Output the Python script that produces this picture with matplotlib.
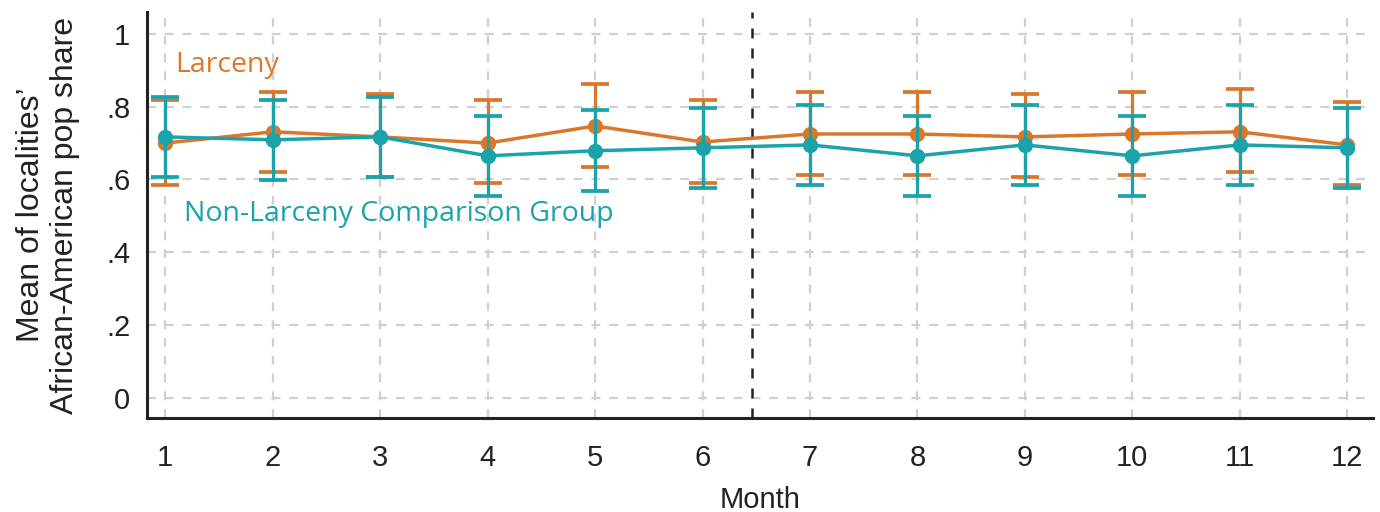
import numpy as np
import matplotlib.pyplot as plt

months = np.arange(1, 13)

# Larceny group
larceny_mean = [0.700, 0.731, 0.717, 0.700, 0.747, 0.703, 0.725, 0.725, 0.717, 0.725, 0.731, 0.695]
larceny_hi = [0.819, 0.841, 0.835, 0.819, 0.863, 0.819, 0.841, 0.841, 0.835, 0.841, 0.849, 0.813]
larceny_lo = [0.585, 0.621, 0.607, 0.591, 0.635, 0.591, 0.613, 0.613, 0.607, 0.613, 0.621, 0.585]

# Non-larceny comparison group
comp_mean = [0.717, 0.709, 0.717, 0.665, 0.679, 0.687, 0.695, 0.665, 0.695, 0.665, 0.695, 0.687]
comp_hi = [0.827, 0.819, 0.827, 0.775, 0.791, 0.797, 0.805, 0.775, 0.805, 0.775, 0.805, 0.797]
comp_lo = [0.607, 0.599, 0.607, 0.555, 0.569, 0.577, 0.585, 0.555, 0.585, 0.555, 0.585, 0.577]

cutoff = 6.46  # policy change between months 6 and 7

yticks = [0, 0.2, 0.4, 0.6, 0.8, 1.0]
ytick_labels = ['0', '.2', '.4', '.6', '.8', '1']

orange = '#D9782D'
teal = '#1AA3AA'

fig = plt.figure(figsize=(13.8, 5.12), dpi=100)
ax = fig.add_axes([147 / 1380, 1 - 418 / 512, (1373 - 147) / 1380, (418 - 12) / 512])

for mean, lo, hi, col, z in [(larceny_mean, larceny_lo, larceny_hi, orange, 3),
                             (comp_mean, comp_lo, comp_hi, teal, 4)]:
    mean = np.array(mean)
    err = [mean - np.array(lo), np.array(hi) - mean]
    ax.errorbar(months, mean, yerr=err, color=col, lw=2.5, marker='o', ms=10,
                capsize=10, capthick=2.7, elinewidth=2.3, zorder=z)

ax.axvline(cutoff, color='#222222', ls=(0, (4, 4)), lw=1.8, zorder=2)

ax.set_xlim(0.83, 12.24)
ax.set_ylim(-0.055, 1.06)
ax.set_xticks(months)
ax.set_yticks(yticks)
ax.set_yticklabels(ytick_labels)

ax.grid(True, color='#d0d0d0', ls=(0, (4, 4)), lw=1.6, zorder=0)
ax.set_axisbelow(True)

for s in ['top', 'right']:
    ax.spines[s].set_visible(False)
for s in ['left', 'bottom']:
    ax.spines[s].set_color('#222222')
    ax.spines[s].set_linewidth(2.2)

tick_font = ['Liberation Sans', 'DejaVu Sans']
ax.tick_params(axis='both', length=0, labelsize=21, labelcolor='#222222')
ax.tick_params(axis='x', pad=19)
ax.tick_params(axis='y', pad=12)
for lab in ax.get_xticklabels() + ax.get_yticklabels():
    lab.set_family(tick_font)

ax.set_xlabel('Month', fontsize=21, family=tick_font, color='#222222', labelpad=10)
ax.set_ylabel('Mean of localities\u2019\nAfrican-American pop share', fontsize=23,
              family=tick_font, color='#222222', labelpad=19, linespacing=1.15)

ax.text(1.09, 0.915, 'Larceny', color=orange, fontsize=20.5, family=['Open Sans', 'DejaVu Sans'],
        va='center', ha='left')
ax.text(1.17, 0.505, 'Non-Larceny Comparison Group', color=teal, fontsize=20.5,
        family=['Open Sans', 'DejaVu Sans'], va='center', ha='left')

fig.savefig('out.png', dpi=100)
